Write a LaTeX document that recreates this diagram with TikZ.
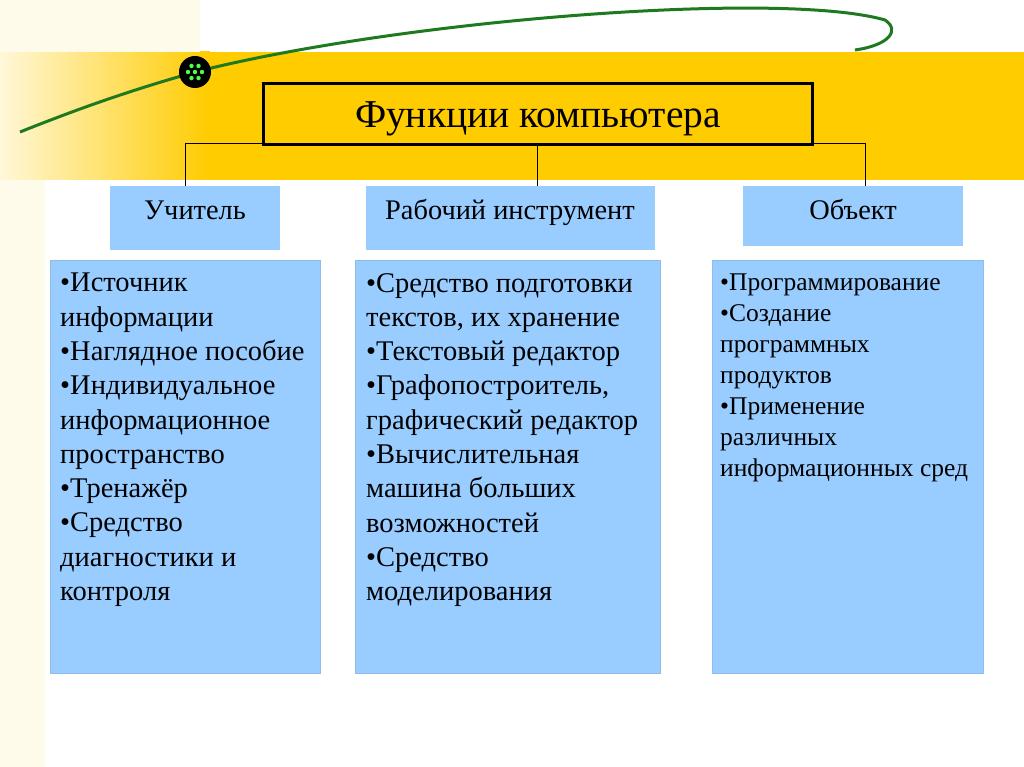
\documentclass[tikz,border=0pt]{standalone}
\usepackage{fontspec}
\usetikzlibrary{calc}
\setmainfont{Liberation Serif}
\begin{document}
\begin{tikzpicture}[x=1pt,y=-1pt,
  hdr/.style={draw=none,fill=blue1},
  htxt/.style={anchor=base,font=\fontsize{28.4}{32}\selectfont},
  cbox/.style={draw=blue2,line width=1pt,fill=blue1},
  lst/.style={anchor=north west,inner sep=0pt,align=left},
  conn/.style={draw=black,line width=0.8pt}]
\definecolor{blue1}{HTML}{99CCFF}
\definecolor{blue2}{HTML}{8FBCE8}
\definecolor{yel}{HTML}{FFCC00}
\definecolor{gr}{HTML}{1F7A1F}
\useasboundingbox (0,0) rectangle (1024,767);
\fill[white] (0,0) rectangle (1024,767);
\fill[yel] (0,52) rectangle (1024,180);
\shade[left color=yel!15,right color=yel] (0,52) rectangle (210,180);
\fill[yel!8!white] (0,180) rectangle (45,767);
\fill[yel!8!white] (0,0) rectangle (200,52);
% green curve
\draw[gr,line width=3pt] (20,132) .. controls (100,100) and (150,85) .. (195,72)
  .. controls (400,20) and (780,-10) .. (885,20) .. controls (900,30) and (890,45) .. (855,50);
\node[circle,fill=black,minimum size=32pt,inner sep=0] (dot) at (195,72) {};
\foreach \a in {0,60,...,300} \fill[green!70!white] ($(195,72)+(\a:7)$) circle (2.2);
\fill[green!70!white] (195,72) circle (2.2);
% title
\node[draw=black,line width=3pt,fill=yel,minimum width=549pt,minimum height=61pt] (t) at (537.5,114.5) {};
\node[anchor=base,font=\fontsize{39.5}{44}\selectfont] at (538,128) {Функции компьютера};
% headers
\node[hdr,minimum width=170pt,minimum height=64pt,anchor=north west] (h1) at (110,186) {};
\node[htxt] at (195,220) {Учитель};
\node[hdr,minimum width=289pt,minimum height=64pt,anchor=north west] (h2) at (366,186) {};
\node[htxt] at (510,220) {Рабочий инструмент};
\node[hdr,minimum width=220pt,minimum height=60pt,anchor=north west] (h3) at (743,186) {};
\node[htxt] at (853,220) {Объект};
% connectors
\coordinate (j1) at (185,143); \coordinate (j3) at (865,143);
\draw[conn] (t.south) -- (t.south |- h2.north);
\draw[conn] (j1) -- (j3);
\draw[conn] (j1) -- (j1 |- h1.north);
\draw[conn] (j3) -- (j3 |- h3.north);
% content boxes
\draw[cbox] (50,260) rectangle (320,673);
\draw[cbox] (355,260) rectangle (660,673);
\draw[cbox] (712,260) rectangle (983,673);
\node[lst,font=\fontsize{28.5}{34.3}\selectfont] (l1) at (60,273) {•Источник\\информации\\•Наглядное пособие\\•Индивидуальное\\информационное\\пространство\\•Тренажёр\\•Средство\\диагностики и\\контроля};
\node[lst,font=\fontsize{28.5}{34.3}\selectfont] (l2) at (366,273) {•Средство подготовки\\текстов, их хранение\\•Текстовый редактор\\•Графопостроитель,\\графический редактор\\•Вычислительная\\машина больших\\возможностей\\•Средство\\моделирования};
\node[lst,font=\fontsize{25.5}{31}\selectfont] (l3) at (720,274) {•Программирование\\•Создание\\программных\\продуктов\\•Применение\\различных\\информационных сред};
\end{tikzpicture}
\end{document}
